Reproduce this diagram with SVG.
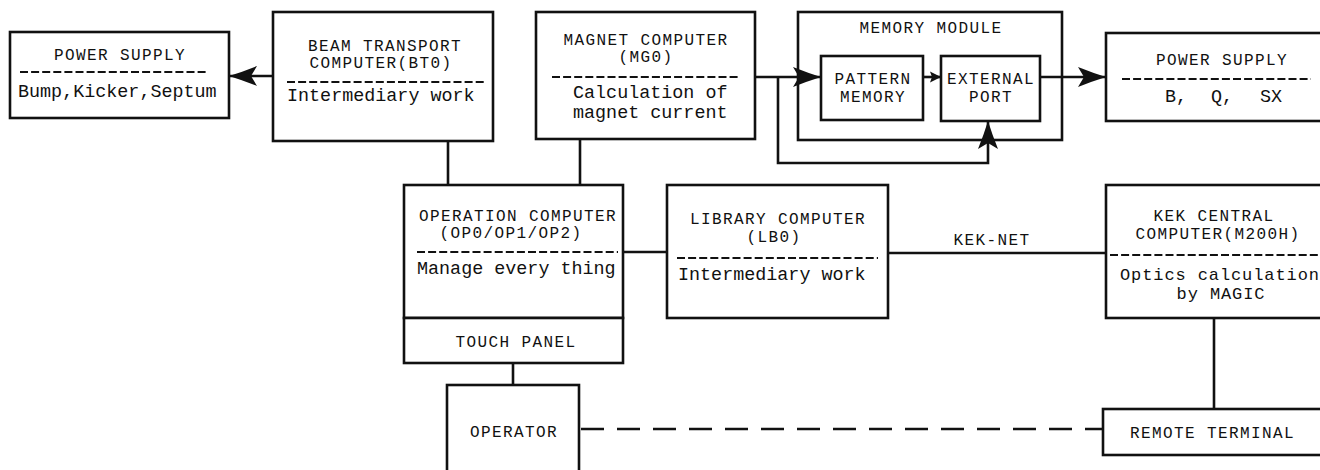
<svg xmlns="http://www.w3.org/2000/svg" width="1320" height="470" viewBox="0 0 1320 470">
<style>
.box{fill:#fff;stroke:#111;stroke-width:2.6}
.sep{stroke:#111;stroke-width:2.2;stroke-dasharray:8 3.1}
.t{font-family:"Liberation Mono","DejaVu Sans Mono",monospace;font-size:18.4px;fill:#111}
.s{font-family:"Liberation Mono","DejaVu Sans Mono",monospace;font-size:17px;letter-spacing:0.9px;fill:#111}
.h{font-family:"Liberation Mono","DejaVu Sans Mono",monospace;font-size:16px;letter-spacing:1.4px;fill:#111}
.c{text-anchor:middle}
.ln{fill:none;stroke:#111;stroke-width:2.6}
</style>
<defs>
<marker id="ah" viewBox="-30 -12 32 24" markerWidth="32" markerHeight="24" refX="0" refY="0" orient="auto" markerUnits="userSpaceOnUse">
<path d="M1,0 Q-12,-4 -27,-10 L-21,0 L-27,10 Q-12,4 1,0 Z" fill="#111"/>
</marker>
<marker id="ahs" viewBox="-12 -8 14 16" markerWidth="14" markerHeight="16" refX="0" refY="0" orient="auto" markerUnits="userSpaceOnUse">
<path d="M1,0 L-10,-5.5 L-8,0 L-10,5.5 Z" fill="#111"/>
</marker>
</defs>
<rect width="1320" height="470" fill="#fff"/>

<g id="ps_left">
<rect class="box" x="10" y="32" width="219" height="86"/>
<text class="h c" x="120" y="60">POWER SUPPLY</text>
<line class="sep" x1="20" y1="72" x2="206" y2="72"/>
<text class="t" x="18" y="97">Bump,Kicker,Septum</text>
</g>

<g id="bt0">
<rect class="box" x="273" y="12" width="220" height="129"/>
<text class="h c" x="385" y="51">BEAM TRANSPORT</text>
<text class="h c" x="381" y="68">COMPUTER(BT0)</text>
<line class="sep" x1="287" y1="82" x2="484" y2="82"/>
<text class="t" x="287" y="101">Intermediary work</text>
</g>

<g id="mg0">
<rect class="box" x="536" y="12" width="219" height="127"/>
<text class="h c" x="646" y="45">MAGNET COMPUTER</text>
<text class="h c" x="646" y="62">(MG0)</text>
<line class="sep" x1="552" y1="77" x2="739" y2="77"/>
<text class="t" x="573" y="98">Calculation of</text>
<text class="t" x="573" y="118">magnet current</text>
</g>

<g id="memory_module">
<rect class="box" x="798" y="12" width="264" height="128"/>
<text class="h c" x="931" y="33">MEMORY MODULE</text>
</g>

<g id="pattern_memory">
<rect class="box" x="821" y="56" width="102" height="64"/>
<text class="h c" x="873" y="84">PATTERN</text>
<text class="h c" x="873" y="102">MEMORY</text>
</g>

<g id="external_port">
<rect class="box" x="941" y="56" width="99" height="65"/>
<text class="h c" x="991" y="84">EXTERNAL</text>
<text class="h c" x="991" y="102">PORT</text>
</g>

<g id="ps_right">
<rect class="box" x="1106" y="33" width="230" height="88"/>
<text class="h c" x="1222" y="65">POWER SUPPLY</text>
<line class="sep" x1="1122" y1="79" x2="1311" y2="79"/>
<text class="t" y="102"><tspan x="1165">B,</tspan><tspan x="1211">Q,</tspan><tspan x="1260">SX</tspan></text>
</g>

<g id="op">
<rect class="box" x="404" y="185" width="219" height="133"/>
<text class="h c" x="518" y="221">OPERATION COMPUTER</text>
<text class="h c" x="511" y="238">(OP0/OP1/OP2)</text>
<line class="sep" x1="417" y1="252" x2="618" y2="252"/>
<text class="t" x="417" y="274">Manage every thing</text>
</g>

<g id="touch_panel">
<rect class="box" x="404" y="318" width="219" height="45"/>
<text class="h c" x="516" y="347">TOUCH PANEL</text>
</g>

<g id="lb0">
<rect class="box" x="667" y="185" width="221" height="133"/>
<text class="h c" x="778" y="224">LIBRARY COMPUTER</text>
<text class="h c" x="774" y="242">(LB0)</text>
<line class="sep" x1="677" y1="258" x2="878" y2="258"/>
<text class="t" x="678" y="280">Intermediary work</text>
</g>

<g id="kek">
<rect class="box" x="1106" y="185" width="230" height="133"/>
<text class="h c" x="1214" y="221">KEK CENTRAL</text>
<text class="h c" x="1218" y="239">COMPUTER(M200H)</text>
<line class="sep" x1="1110" y1="255" x2="1320" y2="255"/>
<text class="s" x="1120" y="280">Optics calculation</text>
<text class="s c" x="1221" y="299">by MAGIC</text>
</g>

<g id="remote_terminal">
<rect class="box" x="1103" y="409" width="230" height="46"/>
<text class="h" x="1130" y="438">REMOTE TERMINAL</text>
</g>

<g id="operator">
<rect class="box" x="447" y="385" width="132" height="100"/>
<text class="h c" x="514" y="437">OPERATOR</text>
</g>

<g id="connectors">
<path class="ln" d="M273,76 H230" marker-end="url(#ah)"/>
<path class="ln" d="M448,141 V185"/>
<path class="ln" d="M580,139 V185"/>
<path class="ln" d="M755,77 H820" marker-end="url(#ah)"/>
<path class="ln" d="M778,77 V163 H988 V122" marker-end="url(#ah)"/>
<path class="ln" d="M923,77 H940" marker-end="url(#ahs)"/>
<path class="ln" d="M1040,77 H1105" marker-end="url(#ah)"/>
<path class="ln" d="M623,252 H667"/>
<path class="ln" d="M888,253 H1106"/>
<text class="h c" x="992" y="245">KEK-NET</text>
<path class="ln" d="M1214,318 V409"/>
<path class="ln" d="M513,363 V385"/>
<path class="ln" d="M581,429 H1103" stroke-dasharray="23 13"/>
</g>
</svg>
